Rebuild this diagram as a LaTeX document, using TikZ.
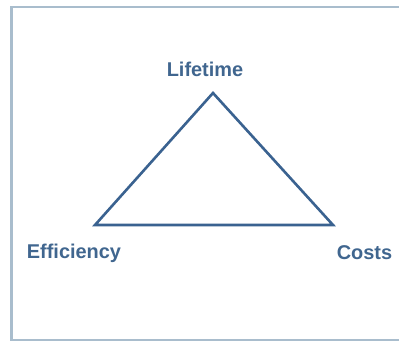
\documentclass[tikz,border=0pt]{standalone}
\usepackage{fontspec}
\setmainfont{Liberation Sans}
\definecolor{edgeblue}{HTML}{3A6290}
\definecolor{labelblue}{HTML}{40668F}
\definecolor{frameblue}{HTML}{A9BDCD}
\begin{document}
\begin{tikzpicture}[x=1bp,y=1bp,
  label text/.style={font=\fontsize{20}{20}\selectfont\bfseries, text=labelblue, inner sep=0pt, anchor=base},
  side/.style={draw=edgeblue, line width=2.6bp, line join=miter}]
\useasboundingbox[fill=white] (0,0) rectangle (399,341);
% frame (open on the right)
\draw[frameblue, line width=2bp] (420,333.5) -- (11.5,333.5) -- (11.5,1.5) -- (420,1.5);
% corners of the triangle
\coordinate (top) at (213,248);
\coordinate (left) at (95,116);
\coordinate (right) at (333,116);
\draw[side] (top) -- (right) -- (left) -- cycle;
% corner labels
\node[label text] (lifetime) at (205,265) {Lifetime};
\node[label text] (efficiency) at (74,83) {Efficiency};
\node[label text] (costs) at (364.5,82) {Costs};
\end{tikzpicture}
\end{document}
